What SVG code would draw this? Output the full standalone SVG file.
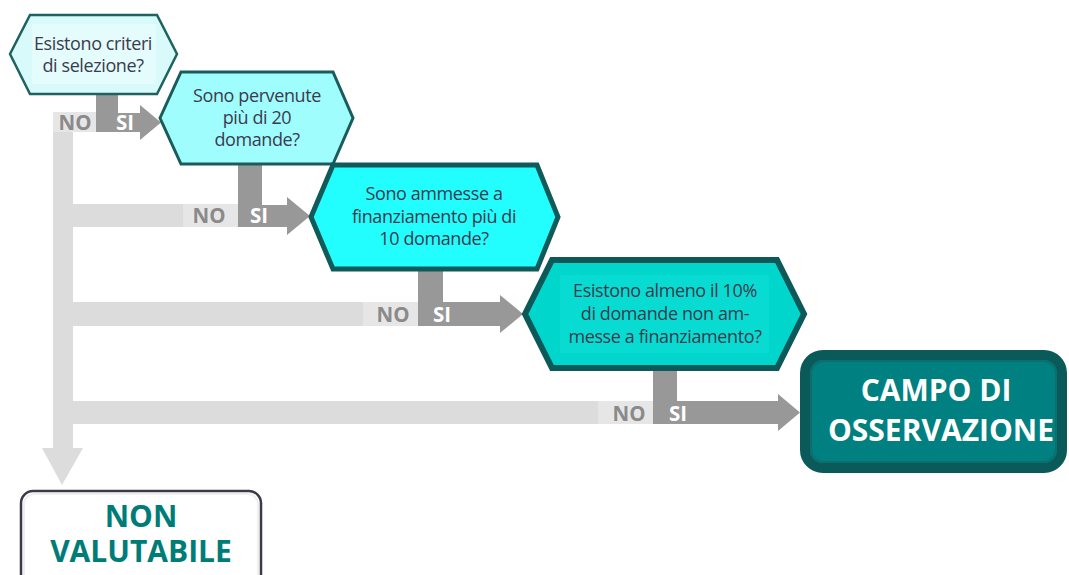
<svg xmlns="http://www.w3.org/2000/svg" width="1069" height="575" viewBox="0 0 1069 575">
<style>
.q{font-family:"Open Sans","Liberation Sans",sans-serif;font-size:18px;fill:#3b3b4d;text-anchor:middle;letter-spacing:-0.4px}
.lbl{font-family:"Open Sans","Liberation Sans",sans-serif;font-size:20.5px;font-weight:bold;text-anchor:middle}
.no{fill:#8a8a8a}
.si{fill:#ffffff}
.dark{fill:#989898}
.light{fill:#dcdcdc}
.nobg{fill:#e6e6e6}
.big{font-family:"Open Sans","Liberation Sans",sans-serif;font-size:30px;font-weight:bold;text-anchor:middle}
</style>
<g id="connectors">
  <rect class="light" x="53" y="112" width="20" height="337"/>
  <polygon class="light" points="42,448 83,448 62,485"/>
  <rect class="nobg" x="53" y="112" width="43" height="20"/>
  <rect class="light" x="73" y="204" width="165" height="23"/>
  <rect class="nobg" x="183" y="204" width="55" height="23"/>
  <rect class="light" x="73" y="302" width="345" height="24"/>
  <rect class="nobg" x="363" y="302" width="55" height="24"/>
  <rect class="light" x="73" y="401" width="580" height="23"/>
  <rect class="nobg" x="598" y="401" width="55" height="23"/>
  <path class="dark" d="M96,94 H118 V113 H140 V105 L161,122.5 L140,140 V132 H96 Z"/>
  <path class="dark" d="M238,164 H262 V205 H287 V197 L310,216 L287,235 V227 H238 Z"/>
  <path class="dark" d="M418,269 H443 V302 H500 V295 L523,314 L500,333 V326 H418 Z"/>
  <path class="dark" d="M653,368 H677 V401 H778 V394 L800,412.5 L778,431 V424 H653 Z"/>
  <text class="lbl no" x="75" y="129.5">NO</text>
  <text class="lbl si" x="125" y="129.5">SI</text>
  <text class="lbl no" x="209" y="223">NO</text>
  <text class="lbl si" x="259" y="223">SI</text>
  <text class="lbl no" x="393" y="321.5">NO</text>
  <text class="lbl si" x="442" y="321.5">SI</text>
  <text class="lbl no" x="629" y="420.5">NO</text>
  <text class="lbl si" x="678" y="420.5">SI</text>
</g>
<g id="q1">
  <polygon points="10,54 30,15 157,15 177,54 157,94 30,94" fill="#d8fafa" stroke="#1e6262" stroke-width="2.5"/>
  <rect x="32" y="24" width="124" height="60" fill="#e4fcfc"/>
  <text class="q"><tspan x="93" y="50">Esistono criteri</tspan><tspan x="93" y="72">di selezione?</tspan></text>
</g>
<g id="q2">
  <polygon points="160,118 181,72 333,72 353,118 333,164 181,164" fill="#a0fdfd" stroke="#1a5c5c" stroke-width="3"/>
  <text class="q"><tspan x="257" y="102">Sono pervenute</tspan><tspan x="257" y="124">più di 20</tspan><tspan x="257" y="146">domande?</tspan></text>
</g>
<g id="q3">
  <polygon points="311,217 333,165 537,165 558,217 537,269 333,269" fill="#22fdfd" stroke="#105a5a" stroke-width="5"/>
  <text class="q"><tspan x="434" y="200">Sono ammesse a</tspan><tspan x="434" y="223">finanziamento più di</tspan><tspan x="434" y="245">10 domande?</tspan></text>
</g>
<g id="q4">
  <polygon points="525,314 552,260 777,260 804,314 777,368 552,368" fill="#00d6cc" stroke="#0d5858" stroke-width="6"/>
  <rect x="560" y="275" width="209" height="78" fill="#08dcd2"/>
  <text class="q"><tspan x="665" y="297">Esistono almeno il 10%</tspan><tspan x="665" y="320">di domande non am-</tspan><tspan x="665" y="343">messe a finanziamento?</tspan></text>
</g>
<g id="campo">
  <rect x="805" y="355" width="257" height="113" rx="18" fill="#008080" stroke="#0a5a5a" stroke-width="10"/>
  <rect x="811" y="361" width="245" height="101" rx="13" fill="none" stroke="#0d6e6e" stroke-width="2"/>
  <text class="big" fill="#ffffff"><tspan x="936" y="401">CAMPO DI</tspan><tspan x="941" y="441">OSSERVAZIONE</tspan></text>
</g>
<g id="nonval">
  <rect x="21" y="491" width="240" height="100" rx="12" fill="#ffffff" stroke="#3a3a48" stroke-width="2.5"/>
  <rect x="24" y="494" width="234" height="100" rx="10" fill="none" stroke="#efefef" stroke-width="2"/>
  <text class="big" fill="#007c78"><tspan x="141" y="527">NON</tspan><tspan x="141" y="562">VALUTABILE</tspan></text>
</g>
</svg>
